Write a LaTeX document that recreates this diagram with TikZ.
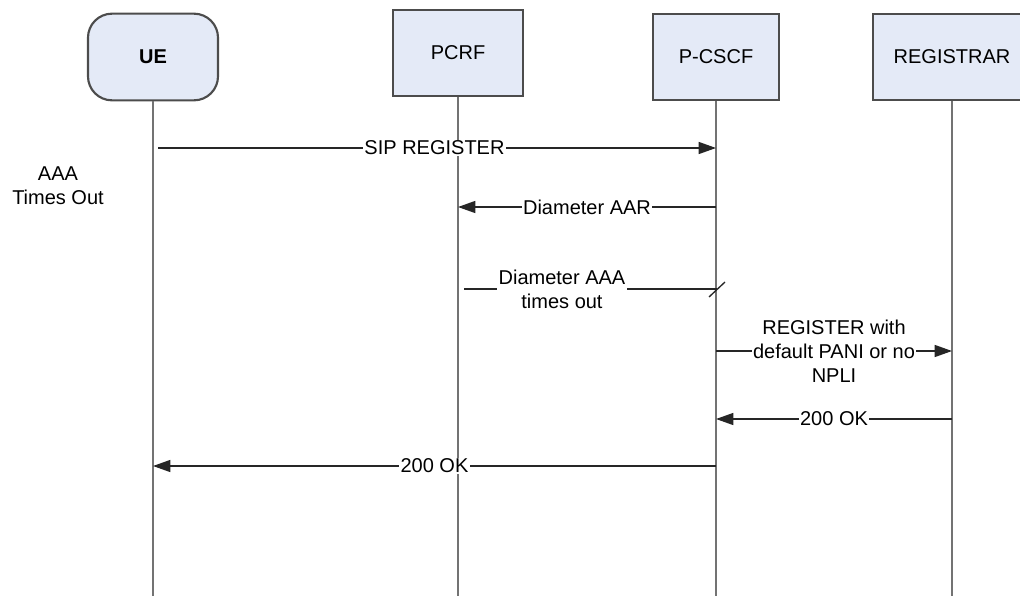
\documentclass[tikz,border=0pt]{standalone}
\usepackage{fontspec}
\setmainfont{Liberation Sans}
\usetikzlibrary{arrows.meta}
\definecolor{boxblue}{RGB}{228,234,247}

\begin{document}
\begin{tikzpicture}[x=0.75pt, y=-0.75pt, >={Triangle[length=13pt,width=9pt]},
  font=\fontsize{15}{18}\selectfont,
  entity/.style={draw=black!70, line width=1.6pt, fill=boxblue, minimum height=65pt, inner sep=0pt},
  lifeline/.style={draw=black!55, line width=2.2pt},
  msg/.style={draw=black!85, line width=1pt},
  lbl/.style={fill=white, inner sep=1pt, align=center}]

% Canvas (1 unit = 1 pixel of the reference)
\useasboundingbox (0,0) rectangle (1020,596);

% Entities
\node[entity, rounded corners=18pt, minimum width=97.5pt] (ue) at (153,57) {\textbf{UE}};
\node[entity, minimum width=98pt] (pcrf) at (458,53) {PCRF};
\node[entity, minimum width=95pt] (pcscf) at (716,57) {P-CSCF};
\node[entity, minimum width=118pt] (reg) at (952,57) {REGISTRAR};

% Lifelines
\foreach \n in {ue,pcrf,pcscf,reg}
  \draw[lifeline] (\n.south) -- (\n.south |- 0,596);

% Note on the left
\node[align=center] (timeout) at (58,186) {AAA\\Times Out};

% SIP REGISTER
\draw[msg, ->, shorten <=4pt] (ue |- 0,148) -- (pcscf |- 0,148)
  node[lbl, midway] {SIP REGISTER};

% Diameter AAR
\draw[msg, ->] (pcscf |- 0,207) -- (pcrf |- 0,207)
  node[lbl, midway] {Diameter AAR};

% Diameter AAA is lost
\coordinate (lost) at (717,289);
\draw[msg, shorten <=4.5pt] (pcrf |- 0,289) -- (lost);
\draw[msg] (lost) ++(-8,8) -- ++(16,-15);
\node[lbl] (aaa) at (562,289) {Diameter AAA\\times out};

% REGISTER towards registrar
\draw[msg, ->] (pcscf |- 0,351) -- (reg |- 0,351)
  node[lbl, midway] {REGISTER with\\default PANI or no\\NPLI};

% 200 OK responses
\draw[msg, ->] (reg |- 0,419) -- (pcscf |- 0,419)
  node[lbl, midway] {200 OK};
\draw[msg, ->] (pcscf |- 0,466) -- (ue |- 0,466)
  node[lbl, midway] {200 OK};

\end{tikzpicture}
\end{document}
